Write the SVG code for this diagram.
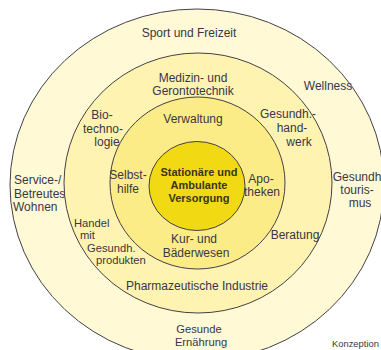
<svg xmlns="http://www.w3.org/2000/svg" width="381" height="350" viewBox="0 0 381 350">
  <style>
    .ring { stroke: #454045; stroke-width: 1; }
    .r1 { fill: #FFF9D6; }
    .r2 { fill: #FEF3B0; }
    .r3 { fill: #FCEC88; }
    .r4 { fill: #F1DA14; }
    text { font-family: "Liberation Sans", Arial, sans-serif; font-size: 12px; fill: #3a3645; }
    .c { text-anchor: middle; }
    .tight { font-size: 11.2px; }
    .core { font-size: 11px; font-weight: bold; text-anchor: middle; fill: #3a3420; }
    .note { font-size: 9.4px; }
  </style>
  <rect width="381" height="350" fill="#ffffff"/>

  <!-- outer ring: leisure and lifestyle -->
  <g id="ring-outer">
    <ellipse class="ring r1" cx="197" cy="185" rx="187" ry="176"/>
    <text class="c" x="189" y="37">Sport und Freizeit</text>
    <text class="c" x="328" y="90">Wellness</text>
    <text x="14" y="184">Service-/</text>
    <text x="14" y="197.5">Betreutes</text>
    <text x="13" y="211">Wohnen</text>
    <text class="c" x="357" y="181">Gesundh</text>
    <text class="c" x="357" y="194">touris-</text>
    <text class="c" x="360" y="207">mus</text>
    <text class="c tight" x="199" y="332.5">Gesunde</text>
    <text class="c tight" x="201" y="345.5">Ernährung</text>
  </g>

  <!-- second ring: supplying industries -->
  <g id="ring-industry">
    <ellipse class="ring r2" cx="198" cy="183" rx="134" ry="130"/>
    <text class="c" x="193" y="82">Medizin- und</text>
    <text class="c" x="193" y="94.5">Gerontotechnik</text>
    <text class="c" x="102" y="119">Bio-</text>
    <text class="c" x="103" y="132.5">techno-</text>
    <text class="c" x="107" y="146">logie</text>
    <text class="c" x="288" y="118">Gesundh.-</text>
    <text class="c" x="292" y="132">hand-</text>
    <text class="c" x="299" y="146">werk</text>
    <text class="tight" x="74" y="226.5">Handel</text>
    <text class="tight" x="80" y="239">mit</text>
    <text class="tight" x="87" y="251.5">Gesundh.</text>
    <text class="tight" x="96" y="264">produkten</text>
    <text class="c" x="197" y="290">Pharmazeutische Industrie</text>
  </g>

  <!-- third ring: services around care -->
  <g id="ring-services">
    <ellipse class="ring r3" cx="197.5" cy="183" rx="87.5" ry="86"/>
    <text class="c" x="193" y="123">Verwaltung</text>
    <text class="c" x="128" y="178.5">Selbst-</text>
    <text class="c" x="128" y="193">hilfe</text>
    <text class="c" x="261" y="182.5">Apo-</text>
    <text class="c" x="262" y="196">theken</text>
    <text class="c" x="295" y="239">Beratung</text>
    <text class="c" x="194" y="243">Kur- und</text>
    <text class="c" x="196" y="256.5">Bäderwesen</text>
  </g>

  <!-- core: inpatient and outpatient care -->
  <g id="core">
    <ellipse class="ring r4" cx="197" cy="186" rx="48" ry="44.5"/>
    <text class="core" x="199" y="175.5">Stationäre und</text>
    <text class="core" x="199" y="188.5">Ambulante</text>
    <text class="core" x="199" y="201.5">Versorgung</text>
  </g>

  <g id="caption">
    <text class="note" x="332" y="347">Konzeption</text>
  </g>
</svg>
